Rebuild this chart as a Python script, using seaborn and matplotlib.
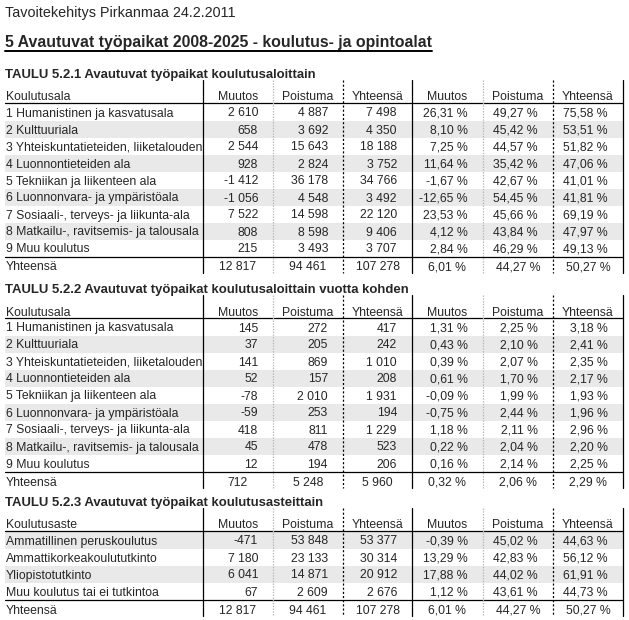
#!/usr/bin/env python3
"""Avautuvat tyopaikat 2008-2025 - three summary tables drawn on a pixel-scaled axes."""

import matplotlib

matplotlib.use("Agg")
import matplotlib.pyplot as plt
import seaborn as sns

# --- data -------------------------------------------------------------------
alat = [
    "1 Humanistinen ja kasvatusala",
    "2 Kulttuuriala",
    "3 Yhteiskuntatieteiden, liiketalouden",
    "4 Luonnontieteiden ala",
    "5 Tekniikan ja liikenteen ala",
    "6 Luonnonvara- ja ympäristöala",
    "7 Sosiaali-, terveys- ja liikunta-ala",
    "8 Matkailu-, ravitsemis- ja talousala",
    "9 Muu koulutus",
]
asteet = [
    "Ammatillinen peruskoulutus",
    "Ammattikorkeakoulututkinto",
    "Yliopistotutkinto",
    "Muu koulutus tai ei tutkintoa",
]

# 5.2.1 totals over the period
t1_muutos = [2610, 658, 2544, 928, -1412, -1056, 7522, 808, 215]
t1_poistuma = [4887, 3692, 15643, 2824, 36178, 4548, 14598, 8598, 3493]
t1_yht = [7498, 4350, 18188, 3752, 34766, 3492, 22120, 9406, 3707]
t1_muutos_pct = [26.31, 8.10, 7.25, 11.64, -1.67, -12.65, 23.53, 4.12, 2.84]
t1_poistuma_pct = [49.27, 45.42, 44.57, 35.42, 42.67, 54.45, 45.66, 43.84, 46.29]
t1_yht_pct = [75.58, 53.51, 51.82, 47.06, 41.01, 41.81, 69.19, 47.97, 49.13]
t1_total = [12817, 94461, 107278, 6.01, 44.27, 50.27]

# 5.2.2 per year
t2_muutos = [145, 37, 141, 52, -78, -59, 418, 45, 12]
t2_poistuma = [272, 205, 869, 157, 2010, 253, 811, 478, 194]
t2_yht = [417, 242, 1010, 208, 1931, 194, 1229, 523, 206]
t2_muutos_pct = [1.31, 0.43, 0.39, 0.61, -0.09, -0.75, 1.18, 0.22, 0.16]
t2_poistuma_pct = [2.25, 2.10, 2.07, 1.70, 1.99, 2.44, 2.11, 2.04, 2.14]
t2_yht_pct = [3.18, 2.41, 2.35, 2.17, 1.93, 1.96, 2.96, 2.20, 2.25]
t2_total = [712, 5248, 5960, 0.32, 2.06, 2.29]

# 5.2.3 by level
t3_muutos = [-471, 7180, 6041, 67]
t3_poistuma = [53848, 23133, 14871, 2609]
t3_yht = [53377, 30314, 20912, 2676]
t3_muutos_pct = [-0.39, 13.29, 17.88, 1.12]
t3_poistuma_pct = [45.02, 42.83, 44.02, 43.61]
t3_yht_pct = [44.63, 56.12, 61.91, 44.73]
t3_total = [12817, 94461, 107278, 6.01, 44.27, 50.27]

col_headers = ["Muutos", "Poistuma", "Yhteensä", "Muutos", "Poistuma", "Yhteensä"]

# --- layout (pixels) ----------------------------------------------------------
W, H = 629, 620
EDGES = [5, 203, 273, 343, 412, 483, 553, 623]
ROW_H = 17
FS = 8.85
SHADE = "#e9e9e9"


def fmt_int(v):
    return f"{v:,}".replace(",", " ")


def fmt_pct(v):
    return f"{v:.2f}".replace(".", ",") + " %"


def draw_table(ax, title, label_head, labels, cols, total, y0, shaded):
    last = y0 + (len(labels) - 1) * ROW_H
    ax.text(EDGES[0], y0 - 39 + 5, title, fontsize=9.45, fontweight="bold", va="baseline")

    for i in shaded:
        yc = y0 + i * ROW_H
        ax.fill_between([EDGES[0], EDGES[-1]], yc - ROW_H / 2, yc + ROW_H / 2,
                        color=SHADE, lw=0, zorder=0)

    # header
    hy = y0 - 16 + 4.5
    ax.text(EDGES[0] + 1, hy, label_head, fontsize=FS, va="baseline")
    for j, h in enumerate(col_headers):
        ax.text((EDGES[j + 1] + EDGES[j + 2]) / 2, hy, h, fontsize=FS, ha="center", va="baseline")

    # body
    for i, lab in enumerate(labels):
        yb = y0 + i * ROW_H + 4.5
        ax.text(EDGES[0] + 1, yb, lab, fontsize=FS, va="baseline")
        for j, series in enumerate(cols):
            v = series[i]
            s = fmt_int(v) if j < 3 else fmt_pct(v)
            ax.text(EDGES[j + 2] - 15, yb, s, fontsize=FS, ha="right", va="baseline")

    # total row
    ty = last + 18 + 4.5
    ax.text(EDGES[0] + 1, ty, "Yhteensä", fontsize=FS, va="baseline")
    for j, v in enumerate(total):
        s = fmt_int(v) if j < 3 else fmt_pct(v)
        ax.text((EDGES[j + 1] + EDGES[j + 2]) / 2, ty, s, fontsize=FS, ha="center", va="baseline")

    # rules
    ax.plot([EDGES[0], EDGES[-1]], [y0 - 9.5, y0 - 9.5], color="black", lw=0.9)
    ax.plot([EDGES[0], EDGES[-1]], [last + 9, last + 9], color="black", lw=0.9)
    vtop, vbot = y0 - 32, last + 25
    for k, x in enumerate(EDGES[1:]):
        if k in (0, 3, 6):
            ax.plot([x, x], [vtop, vbot], color="black", lw=0.9)
        elif k in (2, 5):
            ax.plot([x, x], [vtop, vbot], color="black", lw=0.9, linestyle=(0, (1.5, 1.5)))
        else:
            ax.plot([x, x], [vtop, vbot], color="#b5b5b5", lw=0.9, linestyle=(0, (1.0, 1.0)))


def main():
    sns.set_style("white")
    plt.rcParams["font.family"] = ["Liberation Sans", "DejaVu Sans"]
    plt.rcParams["lines.scale_dashes"] = False

    fig = plt.figure(figsize=(W / 100, H / 100), dpi=100)
    ax = fig.add_axes([0, 0, 1, 1])
    ax.set_xlim(0, W)
    ax.set_ylim(H, 0)
    ax.axis("off")

    ax.text(5, 17, "Tavoitekehitys Pirkanmaa 24.2.2011", fontsize=10.4, va="baseline")
    head = ax.text(5, 47, "5 Avautuvat työpaikat 2008-2025 - koulutus- ja opintoalat",
                   fontsize=11.4, fontweight="bold", va="baseline")
    fig.canvas.draw()
    bb = head.get_window_extent(fig.canvas.get_renderer())
    ax.plot([bb.x0, bb.x1], [50.5, 50.5], color="black", lw=1.4)

    draw_table(ax, "TAULU 5.2.1 Avautuvat työpaikat koulutusaloittain", "Koulutusala", alat,
               [t1_muutos, t1_poistuma, t1_yht, t1_muutos_pct, t1_poistuma_pct, t1_yht_pct],
               t1_total, 112, [1, 3, 5, 7])
    draw_table(ax, "TAULU 5.2.2 Avautuvat työpaikat koulutusaloittain vuotta kohden", "Koulutusala", alat,
               [t2_muutos, t2_poistuma, t2_yht, t2_muutos_pct, t2_poistuma_pct, t2_yht_pct],
               t2_total, 327, [1, 3, 5, 7])
    draw_table(ax, "TAULU 5.2.3 Avautuvat työpaikat koulutusasteittain", "Koulutusaste", asteet,
               [t3_muutos, t3_poistuma, t3_yht, t3_muutos_pct, t3_poistuma_pct, t3_yht_pct],
               t3_total, 540, [0, 2])

    fig.savefig("out.png", dpi=100, facecolor="white")
    plt.close(fig)


if __name__ == "__main__":
    main()
